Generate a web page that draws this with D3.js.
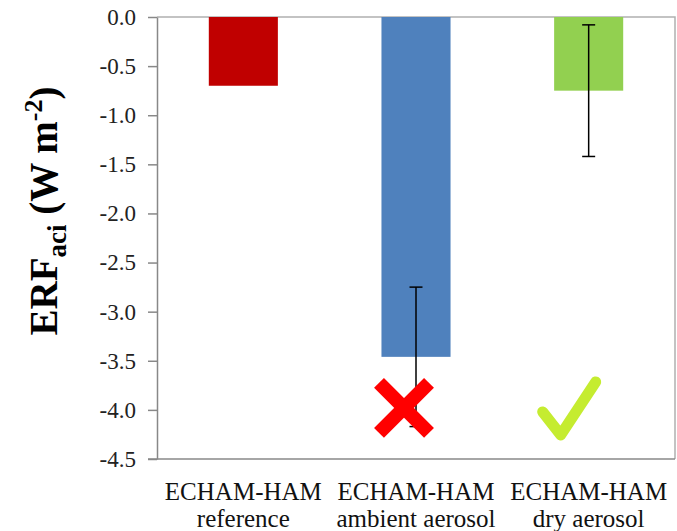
<!DOCTYPE html>
<html>
<head>
<meta charset="utf-8">
<script src="https://cdn.jsdelivr.net/npm/d3@7"></script>
<style>
  body { margin: 0; background: #fff; }
</style>
</head>
<body>
<div class="graph"></div>
<script>
// data
const categories = ['reference', 'ambient', 'dry'];
const labelLine1 = ['ECHAM-HAM', 'ECHAM-HAM', 'ECHAM-HAM'];
const labelLine2 = ['reference', 'ambient aerosol', 'dry aerosol'];
const values = [-0.70, -3.46, -0.75];
const errHigh = [null, -2.75, -0.08];
const errLow = [null, -4.17, -1.42];
const barColors = ['#C00000', '#4F81BD', '#92D050'];
const yTicks = [0, -0.5, -1, -1.5, -2, -2.5, -3, -3.5, -4, -4.5];

const fontName = 'Liberation Serif';
const width = 677, height = 531;
const margin = { top: 17, right: 2, bottom: 72, left: 157 };

const svg = d3.select('.graph').append('svg')
  .attr('width', width)
  .attr('height', height);

const x = d3.scaleBand()
  .domain(categories)
  .range([margin.left, width - margin.right])
  .paddingInner(0.6)
  .paddingOuter(0.3);

const y = d3.scaleLinear()
  .domain([-4.5, 0])
  .range([height - margin.bottom, margin.top]);

// plot area border (top + right)
svg.append('path')
  .attr('d', `M${margin.left},${y(0)}H${width - margin.right}V${y(-4.5)}`)
  .attr('fill', 'none')
  .attr('stroke', '#b0b0b0')
  .attr('stroke-width', 1.5);

// bars hang down from 0
svg.append('g')
  .selectAll('rect')
  .data(values)
  .join('rect')
  .attr('x', (d, i) => x(categories[i]))
  .attr('y', y(0))
  .attr('width', x.bandwidth())
  .attr('height', d => y(d) - y(0))
  .attr('fill', (d, i) => barColors[i]);

// error bars
const cap = 6.5;
const eb = svg.append('g').attr('stroke', '#000').attr('stroke-width', 1.5);
categories.forEach((c, i) => {
  if (errHigh[i] == null) return;
  const cx = x(c) + x.bandwidth() / 2;
  eb.append('line').attr('x1', cx).attr('x2', cx).attr('y1', y(errHigh[i])).attr('y2', y(errLow[i]));
  eb.append('line').attr('x1', cx - cap).attr('x2', cx + cap).attr('y1', y(errHigh[i])).attr('y2', y(errHigh[i]));
  eb.append('line').attr('x1', cx - cap).attr('x2', cx + cap).attr('y1', y(errLow[i])).attr('y2', y(errLow[i]));
});

// y axis
const yAxis = svg.append('g')
  .attr('transform', `translate(${margin.left},0)`)
  .call(d3.axisLeft(y).tickValues(yTicks).tickSize(9).tickSizeOuter(0).tickFormat(d3.format('.1f')))
  .attr('font-family', fontName)
  .attr('font-size', 23);
yAxis.select('.domain').attr('stroke', '#888').attr('stroke-width', 1.5);
yAxis.selectAll('.tick line').attr('stroke', '#888').attr('stroke-width', 1.5);
yAxis.selectAll('.tick text')
  .attr('x', -21)
  .attr('fill', '#222')
  .text(d => d3.format('.1f')(d).replace('−', '-'));

// x axis line
svg.append('line')
  .attr('x1', margin.left - 9).attr('x2', width - margin.right)
  .attr('y1', y(-4.5)).attr('y2', y(-4.5))
  .attr('stroke', '#888').attr('stroke-width', 1.5);

// category labels
const xl = svg.append('g').attr('fill', '#111').attr('text-anchor', 'middle')
  .attr('font-family', fontName).attr('font-size', 25);
categories.forEach((c, i) => {
  const cx = x(c) + x.bandwidth() / 2;
  xl.append('text').attr('x', cx).attr('y', 500).text(labelLine1[i]);
  xl.append('text').attr('x', cx).attr('y', 527).text(labelLine2[i]);
});

// y title
const yt = svg.append('text')
  .attr('transform', 'translate(57,211) rotate(-90)')
  .attr('text-anchor', 'middle')
  .attr('fill', '#000')
  .attr('font-family', fontName)
  .attr('font-size', 39)
  .attr('font-weight', 'bold');
yt.append('tspan').text('ERF');
yt.append('tspan').attr('dy', 9).attr('font-size', 27).text('aci');
yt.append('tspan').attr('dy', -9).text(' (W m');
yt.append('tspan').attr('dy', -15).attr('font-size', 26).text('-2');
yt.append('tspan').attr('dy', 15).text(')');

// red cross under ambient aerosol
const crossAt = [x('ambient') + x.bandwidth() / 2 - 12, y(-3.98)];
const cross = svg.append('g')
  .attr('transform', `translate(${crossAt})`)
  .attr('stroke', '#FF0000').attr('stroke-width', 14);
cross.append('line').attr('x1', -25).attr('y1', -25).attr('x2', 25).attr('y2', 25);
cross.append('line').attr('x1', 25).attr('y1', -25).attr('x2', -25).attr('y2', 25);

// green tick under dry aerosol
const checkAt = [x('dry') + x.bandwidth() / 2 - 20, y(-3.98)];
svg.append('path')
  .attr('transform', `translate(${checkAt})`)
  .attr('d', 'M-26,4 L-8,27 L27,-26')
  .attr('fill', 'none')
  .attr('stroke', '#C5EC30')
  .attr('stroke-width', 11)
  .attr('stroke-linecap', 'round')
  .attr('stroke-linejoin', 'round');
</script>
</body>
</html>
